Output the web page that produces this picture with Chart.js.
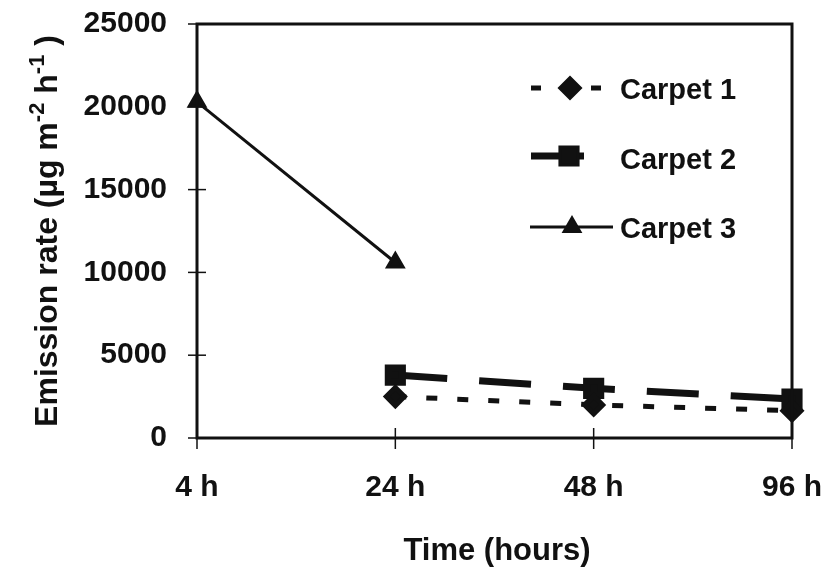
<!DOCTYPE html>
<html>
<head>
<meta charset="utf-8">
<script src="https://cdn.jsdelivr.net/npm/chart.js@4"></script>
<style>
  html, body { margin: 0; padding: 0; background: #fff; }
  #wrap { width: 829px; height: 570px; }
</style>
</head>
<body>
<div id="wrap"><canvas id="chart" width="829" height="570"></canvas></div>
<script>
// Chart data
const timeLabels = ['4 h', '24 h', '48 h', '96 h'];
const carpet1 = [null, 2500, 2000, 1650];
const carpet2 = [null, 3800, 3000, 2350];
const carpet3 = [20300, 10600, null, null];
const yTicks = [0, 5000, 10000, 15000, 20000, 25000];

const ink = '#111';
const fontName = '"Liberation Sans", Arial, sans-serif';

// drop the automatic label overflow padding so the plot box sits where the figure has it
function noPadding(scale) {
  scale.paddingTop = 0;
  scale.paddingBottom = 0;
  scale.paddingLeft = 0;
  scale.paddingRight = 0;
}

// Frame, crossing tick marks, axis titles and the legend
const decorations = {
  id: 'decorations',
  afterDraw(chart) {
    const ctx = chart.ctx;
    const area = chart.chartArea;
    const xs = chart.scales.x;
    const ys = chart.scales.y;
    ctx.save();
    ctx.strokeStyle = ink;
    ctx.lineWidth = 3;
    ctx.strokeRect(area.left, area.top, area.right - area.left, area.bottom - area.top);

    // tick marks crossing the axes
    ctx.lineWidth = 1.5;
    yTicks.forEach(v => {
      const y = ys.getPixelForValue(v);
      ctx.beginPath();
      ctx.moveTo(area.left - 9, y);
      ctx.lineTo(area.left + 9, y);
      ctx.stroke();
    });
    timeLabels.forEach((l, i) => {
      const x = xs.getPixelForValue(i);
      ctx.beginPath();
      ctx.moveTo(x, area.bottom - 10);
      ctx.lineTo(x, area.bottom + 11);
      ctx.stroke();
    });

    // x axis title
    ctx.fillStyle = ink;
    ctx.font = 'bold 31px ' + fontName;
    ctx.textAlign = 'center';
    ctx.textBaseline = 'middle';
    ctx.fillText('Time (hours)', 497, 551);

    // y axis title with superscripts
    ctx.save();
    ctx.translate(46, 231);
    ctx.rotate(-Math.PI / 2);
    const parts = [
      ['Emission rate (\u00b5g m', false],
      ['-2', true],
      [' h', false],
      ['-1', true],
      [' )', false]
    ];
    const big = 'bold 32px ' + fontName;
    const small = 'bold 22px ' + fontName;
    let total = 0;
    parts.forEach(p => { ctx.font = p[1] ? small : big; total += ctx.measureText(p[0]).width; });
    let x = -total / 2;
    ctx.textAlign = 'left';
    ctx.textBaseline = 'alphabetic';
    parts.forEach(p => {
      ctx.font = p[1] ? small : big;
      ctx.fillText(p[0], x, p[1] ? -2 : 11);
      x += ctx.measureText(p[0]).width;
    });
    ctx.restore();

    // legend
    const sets = chart.data.datasets;
    const rows = [
      { y: 88, x0: 531, x1: 603, mx: 570, textY: 91 },
      { y: 156, x0: 531, x1: 584, mx: 569, textY: 161 },
      { y: 227, x0: 530, x1: 613, mx: 572, textY: 230 }
    ];
    rows.forEach((r, i) => {
      const ds = sets[i];
      ctx.strokeStyle = ink;
      ctx.lineWidth = ds.borderWidth;
      ctx.setLineDash(i === 0 ? [10, 20] : []);
      ctx.beginPath();
      ctx.moveTo(r.x0, r.y);
      ctx.lineTo(r.x1, r.y);
      ctx.stroke();
      ctx.setLineDash([]);
      ctx.fillStyle = ink;
      Chart.helpers.drawPoint(ctx, {
        pointStyle: ds.pointStyle,
        radius: ds.pointRadius,
        borderWidth: 1,
        rotation: 0
      }, r.mx, r.y);
      ctx.fill();
      ctx.font = 'bold 29px ' + fontName;
      ctx.textAlign = 'left';
      ctx.textBaseline = 'middle';
      ctx.fillText(ds.label, 620, r.textY);
    });
    ctx.restore();
  }
};

new Chart(document.getElementById('chart'), {
  type: 'line',
  data: {
    labels: timeLabels,
    datasets: [
      {
        label: 'Carpet 1',
        data: carpet1,
        borderColor: ink,
        backgroundColor: ink,
        borderWidth: 5,
        borderDash: [11, 20],
        pointStyle: 'rectRot',
        pointRadius: 9,
        clip: false
      },
      {
        label: 'Carpet 2',
        data: carpet2,
        borderColor: ink,
        backgroundColor: ink,
        borderWidth: 7,
        borderDash: [52, 32],
        pointStyle: 'rect',
        pointRadius: 10,
        clip: false
      },
      {
        label: 'Carpet 3',
        data: carpet3,
        borderColor: ink,
        backgroundColor: ink,
        borderWidth: 3,
        pointStyle: 'triangle',
        pointRadius: 9,
        clip: false
      }
    ]
  },
  options: {
    responsive: false,
    animation: false,
    devicePixelRatio: 1,
    layout: { padding: { top: 24, right: 37, left: 0, bottom: 0 } },
    plugins: { legend: { display: false }, tooltip: { enabled: false } },
    scales: {
      x: {
        type: 'category',
        offset: false,
        grid: { display: false, drawTicks: false },
        border: { display: false },
        ticks: {
          color: ink,
          padding: 32,
          maxRotation: 0,
          autoSkip: false,
          font: { family: fontName, size: 30, weight: 'bold' }
        },
        afterFit(scale) { scale.height = 132; noPadding(scale); }
      },
      y: {
        min: 0,
        max: 25000,
        grid: { display: false, drawTicks: false },
        border: { display: false },
        afterBuildTicks(scale) { scale.ticks = yTicks.map(v => ({ value: v })); },
        ticks: {
          color: ink,
          padding: 30,
          callback: v => String(v),
          font: { family: fontName, size: 30, weight: 'bold' }
        },
        afterFit(scale) { scale.width = 197; noPadding(scale); }
      }
    }
  },
  plugins: [decorations]
});
</script>
</body>
</html>
